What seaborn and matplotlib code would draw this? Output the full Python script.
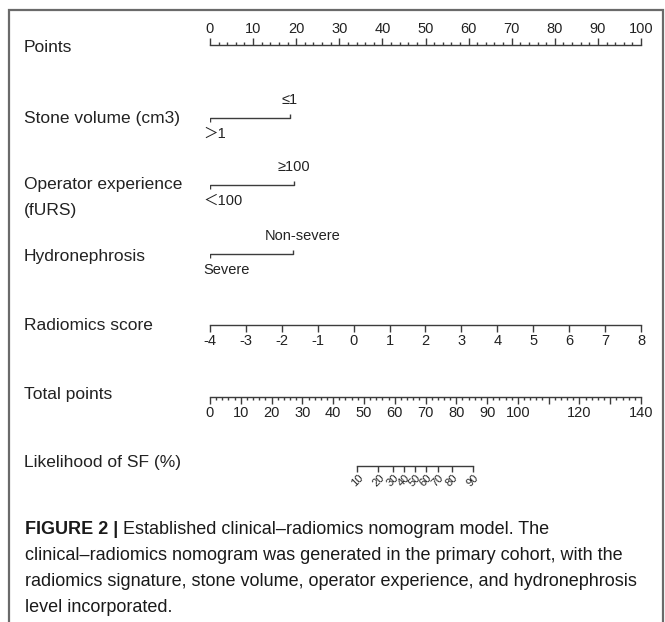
import matplotlib
matplotlib.use("Agg")
import matplotlib.pyplot as plt
from matplotlib import transforms
from matplotlib.ticker import MultipleLocator
from matplotlib import font_manager
import seaborn as sns
import pandas as pd

# ---------------- nomogram scales ----------------
points_ticks = [0, 10, 20, 30, 40, 50, 60, 70, 80, 90, 100]

stone_levels = ["＞1", "≤1"]
stone_points = [0.0, 18.5]

operator_levels = ["＜100", "≥100"]
operator_points = [0.0, 19.4]

hydro_levels = ["Severe", "Non-severe"]
hydro_points = [0.0, 19.2]

radiomics_ticks = [-4, -3, -2, -1, 0, 1, 2, 3, 4, 5, 6, 7, 8]

total_ticks = [0, 10, 20, 30, 40, 50, 60, 70, 80, 90, 100, 110, 120, 130, 140]
total_labels = ["0", "10", "20", "30", "40", "50", "60", "70", "80", "90",
                "100", "", "120", "", "140"]

sf_labels = ["10", "20", "30", "40", "50", "60", "70", "80", "90"]
sf_total_points = [47.7, 54.7, 59.3, 63.1, 66.6, 70.1, 73.9, 78.5, 85.4]

row_titles = ["Points", "Stone volume (cm3)", "Operator experience", "(fURS)",
              "Hydronephrosis", "Radiomics score", "Total points",
              "Likelihood of SF (%)"]

caption_head = "FIGURE 2 | "
caption_lines = [
    "Established clinical–radiomics nomogram model. The",
    "clinical–radiomics nomogram was generated in the primary cohort, with the",
    "radiomics signature, stone volume, operator experience, and hydronephrosis",
    "level incorporated.",
]

# ---------------- style ----------------
sns.set_theme(style="white")
plt.rcParams["font.family"] = ["Liberation Sans", "Noto Sans CJK SC", "DejaVu Sans"]

installed = {f.name for f in font_manager.fontManager.ttflist}
cap_family = "Liberation Sans Narrow" if "Liberation Sans Narrow" in installed else "Liberation Sans"
cap_size = 14.5 if cap_family == "Liberation Sans Narrow" else 13.0

TXT = "#222222"
LINE = "#3c3c3c"
LW = 1.0

W, H = 665, 622
X0, X1 = 210, 641

fig = plt.figure(figsize=(W / 100, H / 100), dpi=100)
fig.patch.set_facecolor("white")

# full-figure canvas in pixel units for titles, frame and caption
canvas = fig.add_axes([0, 0, 1, 1], zorder=0)
canvas.set_xlim(0, W)
canvas.set_ylim(H, 0)
canvas.axis("off")


def row_axes(y_top, y_bot):
    ax = fig.add_axes([X0 / W, 1 - y_bot / H, (X1 - X0) / W, (y_bot - y_top) / H], zorder=2)
    ax.patch.set_alpha(0)
    ax.set_yticks([])
    for s in ax.spines.values():
        s.set_visible(False)
        s.set_color(LINE)
        s.set_linewidth(LW)
    return ax


# ---- Points (ticks above the line, labels on top) ----
ax = row_axes(40, 45)
ax.set_xlim(0, 100)
ax.spines["bottom"].set_visible(True)
ax.set_xticks(points_ticks)
ax.set_xticklabels([str(v) for v in points_ticks])
ax.xaxis.set_minor_locator(MultipleLocator(2))
ax.tick_params(axis="x", which="both", direction="in", bottom=True, top=False,
               labelbottom=False, labeltop=True, color=LINE, width=LW)
ax.tick_params(axis="x", which="major", length=5, pad=3, labelsize=10.5, labelcolor=TXT)
ax.tick_params(axis="x", which="minor", length=2.5)


# ---- categorical predictors ----
def category_row(line_y, levels, pts, upper_dx=0):
    ax = row_axes(line_y - 30, line_y + 30)
    ax.set_xlim(0, 100)
    ax.set_ylim(30, -30)
    ax.set_xticks([])
    df = pd.DataFrame({"pts": pts, "y": [0, 0]})
    sns.lineplot(data=df, x="pts", y="y", ax=ax, color=LINE, linewidth=LW,
                 estimator=None, sort=False)
    ax.set_xlabel("")
    ax.set_ylabel("")
    lo, hi = pts
    ax.vlines(lo, 0, 4, color=LINE, linewidth=LW)
    ax.vlines(hi, -4, 0, color=LINE, linewidth=LW)
    off_lo = transforms.offset_copy(ax.transData, fig=fig, x=-7, y=0, units="dots")
    ax.text(lo, 16, levels[0], transform=off_lo, ha="left", va="center",
            fontsize=10.5, color=TXT)
    off_hi = transforms.offset_copy(ax.transData, fig=fig, x=upper_dx, y=0, units="dots")
    ax.text(hi, -18, levels[1], transform=off_hi, ha="center", va="center",
            fontsize=10.5, color=TXT)


category_row(118, stone_levels, stone_points)
category_row(185, operator_levels, operator_points)
category_row(254, hydro_levels, hydro_points, upper_dx=10)


# ---- continuous scales (ticks below the line, labels below) ----
def scale_row(y_line, lim, ticks, labels, minor=None, rotate=0, fs=10.5, bounds=None,
              major_len=5, pad=3):
    ax = row_axes(y_line, y_line + 5)
    ax.set_xlim(*lim)
    ax.spines["top"].set_visible(True)
    if bounds is not None:
        ax.spines["top"].set_bounds(*bounds)
    ax.set_xticks(ticks)
    ax.set_xticklabels(labels)
    if minor is not None:
        ax.xaxis.set_minor_locator(MultipleLocator(minor))
    ax.tick_params(axis="x", which="both", direction="in", top=True, bottom=False,
                   labeltop=False, labelbottom=True, color=LINE, width=LW)
    ax.tick_params(axis="x", which="major", length=major_len, pad=pad,
                   labelsize=fs, labelcolor=TXT)
    ax.tick_params(axis="x", which="minor", length=2.5)
    if rotate:
        for t in ax.get_xticklabels():
            t.set_rotation(rotate)
            t.set_ha("center")
    return ax


scale_row(325, (-4, 8), radiomics_ticks, [str(v) for v in radiomics_ticks])
scale_row(397, (0, 140), total_ticks, total_labels, minor=2)
scale_row(466, (0, 140), sf_total_points, sf_labels, rotate=45, fs=8,
          bounds=(sf_total_points[0], sf_total_points[-1]), major_len=4, pad=1)

# ---- row titles ----
title_y = [47, 118, 184, 211, 256, 325, 394, 463]
for name, y in zip(row_titles, title_y):
    canvas.text(24, y, name, ha="left", va="center", fontsize=12.5, color=TXT)

# ---- frame ----
canvas.plot([9, 9, 663, 663], [H + 5, 10, 10, H + 5], color="#6a6a6a",
            linewidth=1.6, solid_joinstyle="miter", clip_on=False)

# ---- caption ----
renderer = fig.canvas.get_renderer()
cap_y = [530, 556, 582, 608]
head = canvas.text(25, cap_y[0], caption_head, ha="left", va="center",
                   fontsize=cap_size, fontweight="bold", family=[cap_family, "DejaVu Sans"],
                   color="#1a1a1a")
bb = head.get_window_extent(renderer=renderer)
for i, (line, y) in enumerate(zip(caption_lines, cap_y)):
    x = 25
    if i == 0:
        x = 25 + bb.width * (W / fig.bbox.width)
    canvas.text(x, y, line, ha="left", va="center", fontsize=cap_size,
                family=[cap_family, "DejaVu Sans"], color="#1a1a1a")

fig.savefig("out.png", dpi=100, facecolor="white")
